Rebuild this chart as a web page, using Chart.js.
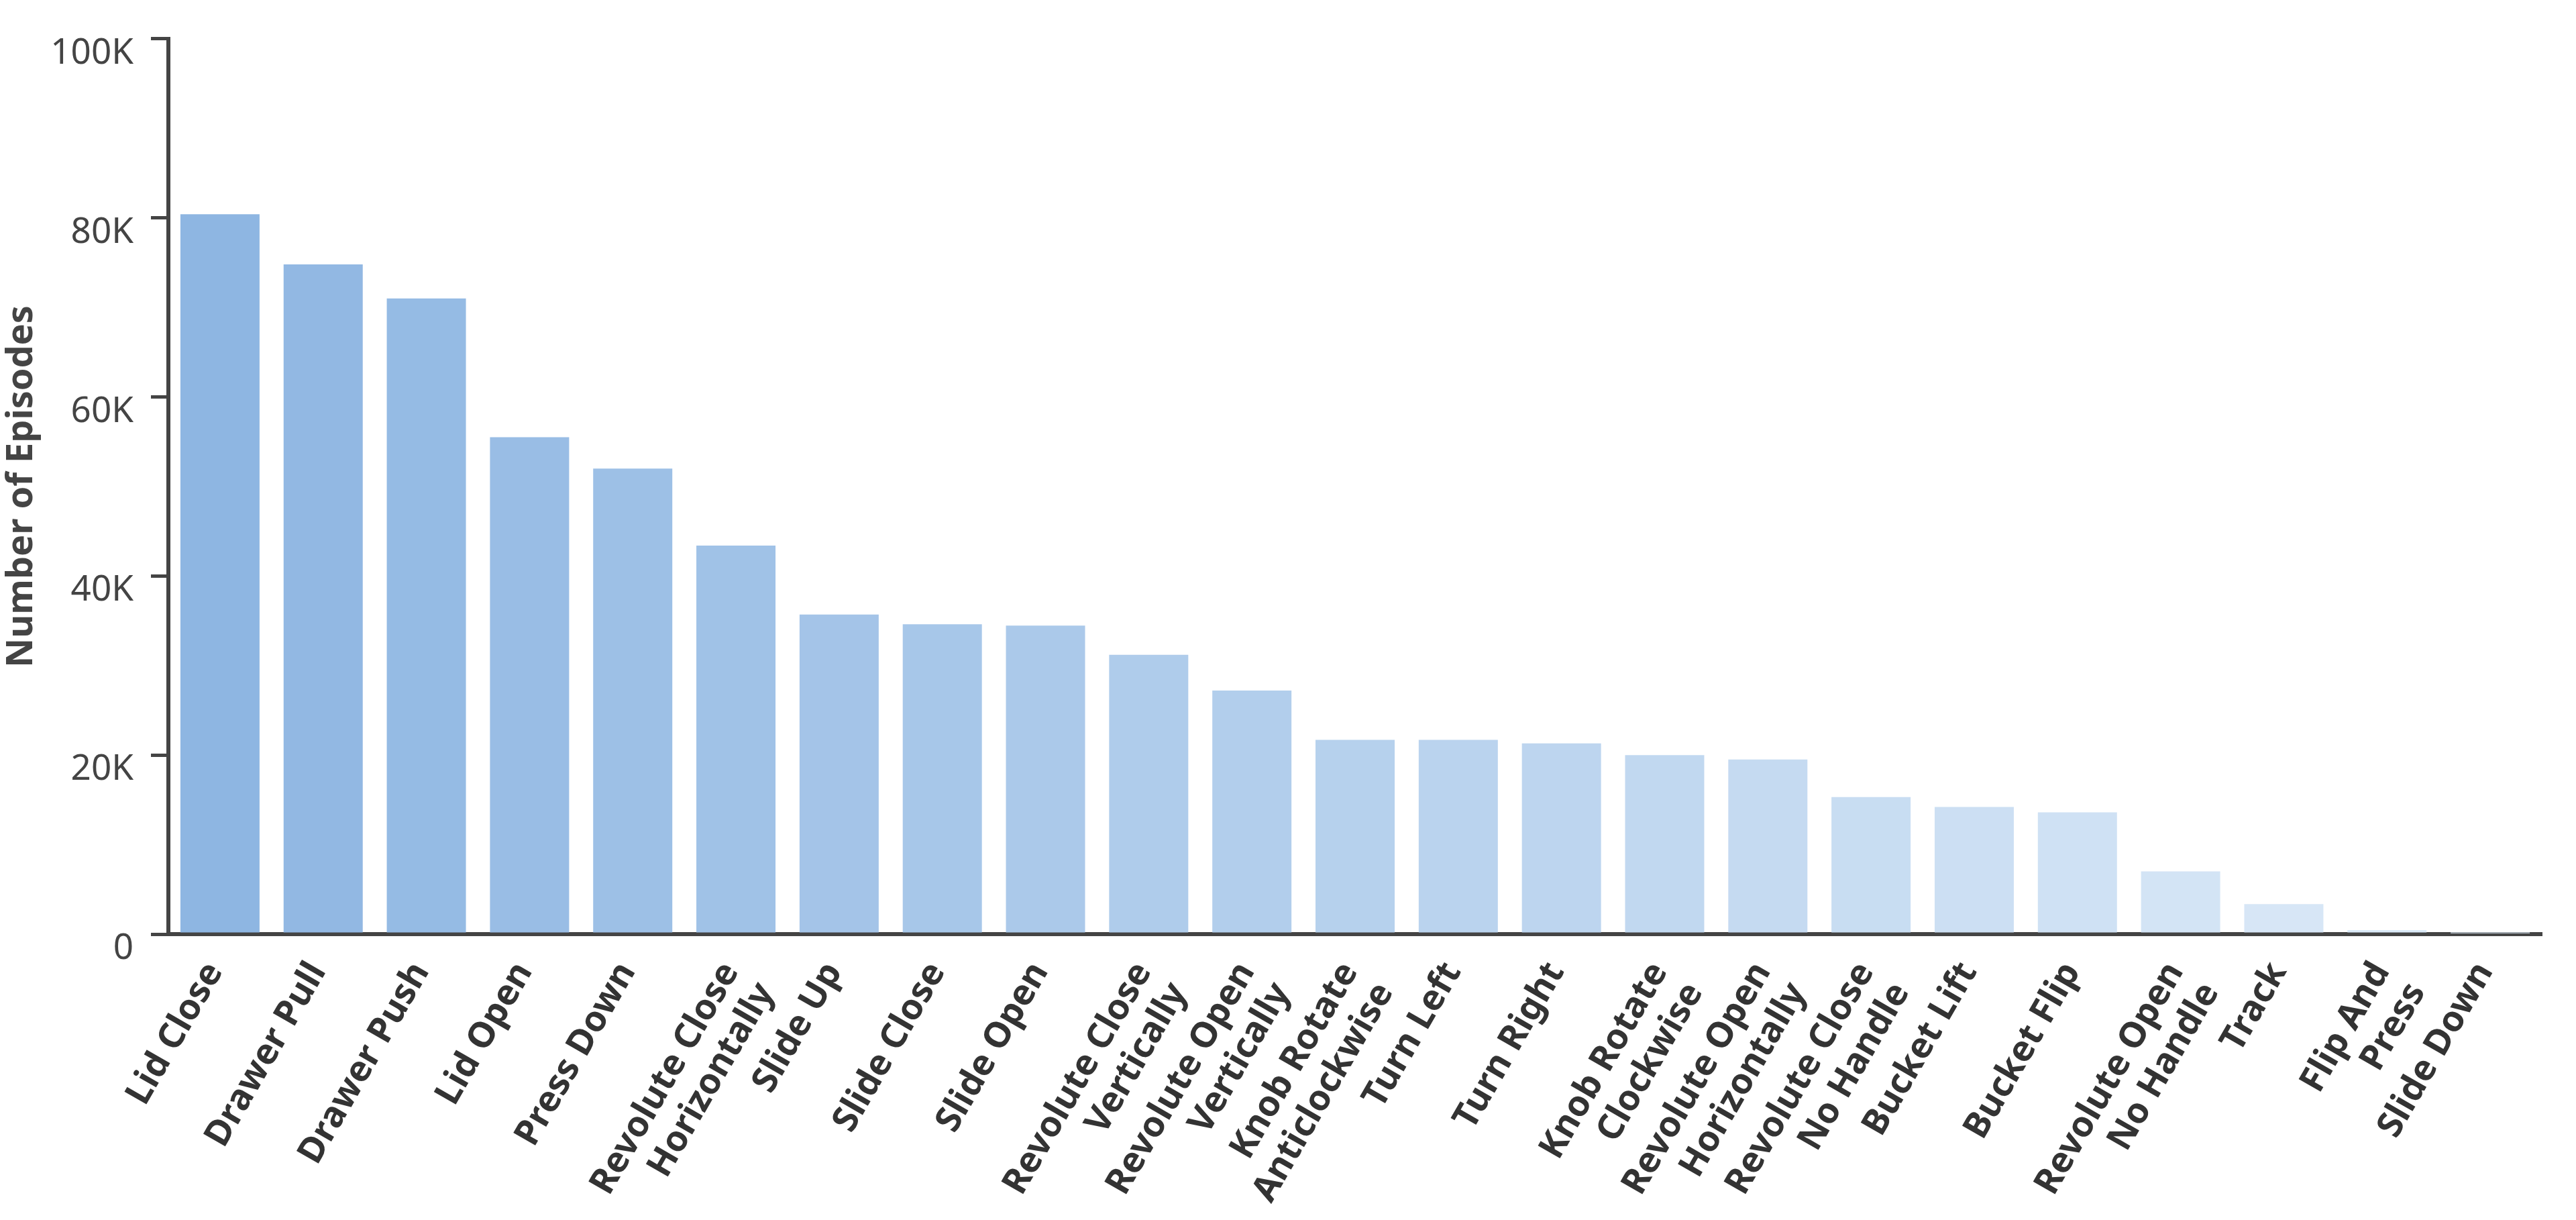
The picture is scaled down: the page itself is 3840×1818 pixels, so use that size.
<!DOCTYPE html>
<html>
<head>
<meta charset="utf-8">
<script src="https://cdn.jsdelivr.net/npm/chart.js@4/dist/chart.umd.min.js"></script>
<style>
  html, body { margin: 0; padding: 0; background: #ffffff; }
  #wrap { width: 3840px; height: 1818px; }
</style>
</head>
<body>
<div id="wrap"><canvas id="c" width="3840" height="1818"></canvas></div>
<script>
// ---- data ----
const categories = [
  ["Lid Close"],
  ["Drawer Pull"],
  ["Drawer Push"],
  ["Lid Open"],
  ["Press Down"],
  ["Revolute Close", "Horizontally"],
  ["Slide Up"],
  ["Slide Close"],
  ["Slide Open"],
  ["Revolute Close", "Vertically"],
  ["Revolute Open", "Vertically"],
  ["Knob Rotate", "Anticlockwise"],
  ["Turn Left"],
  ["Turn Right"],
  ["Knob Rotate", "Clockwise"],
  ["Revolute Open", "Horizontally"],
  ["Revolute Close", "No Handle"],
  ["Bucket Lift"],
  ["Bucket Flip"],
  ["Revolute Open", "No Handle"],
  ["Track"],
  ["Flip And", "Press"],
  ["Slide Down"]
];
const episodes = [80400, 74800, 71000, 55500, 52000, 43400, 35700, 34600, 34450, 31200,
                  27200, 21700, 21700, 21300, 20000, 19500, 15300, 14200, 13600, 7000,
                  3350, 450, 100];
const yTickValues = [0, 20000, 40000, 60000, 80000, 100000];
const yTickLabels = ["0", "20K", "40K", "60K", "80K", "100K"];
const yAxisTitle = "Number of Episodes";

// ---- styles ----
const startColor = [142, 182, 226];
const endColor = [222, 235, 248];
const barColors = episodes.map((_, i) => {
  const t = i / (episodes.length - 1);
  const c = startColor.map((s, k) => Math.round(s + (endColor[k] - s) * t));
  return `rgb(${c[0]},${c[1]},${c[2]})`;
});

const FONT = "'Noto Sans', 'Open Sans', 'DejaVu Sans', sans-serif";

new Chart(document.getElementById('c'), {
  type: 'bar',
  data: {
    labels: categories,
    datasets: [{
      data: episodes,
      backgroundColor: barColors,
      borderWidth: 0,
      categoryPercentage: 1.0,
      barPercentage: 0.767
    }]
  },
  options: {
    responsive: false,
    devicePixelRatio: 1,
    animation: false,
    events: [],
    layout: { padding: { top: 52, right: 51, bottom: 0, left: 0 } },
    plugins: {
      legend: { display: false },
      tooltip: { enabled: false },
      title: { display: false }
    },
    scales: {
      x: {
        offset: true,
        grid: { display: false },
        border: { display: true, color: '#444444', width: 6 },
        ticks: {
          autoSkip: false,
          maxRotation: 60,
          minRotation: 60,
          padding: 24,
          labelOffset: -8,
          color: '#333333',
          font: { family: FONT, size: 53, weight: 'bold', lineHeight: 1.15 }
        },
        afterFit(scale) { scale.height = 426; }
      },
      y: {
        min: 0,
        max: 100000,
        afterBuildTicks(scale) { scale.ticks = yTickValues.map(v => ({ value: v })); },
        grid: {
          display: true,
          drawOnChartArea: false,
          drawTicks: true,
          tickLength: 26,
          color: '#444444',
          lineWidth: 5
        },
        border: { display: true, color: '#444444', width: 6 },
        ticks: {
          padding: 26,
          labelOffset: 22,
          color: '#444444',
          font: { family: FONT, size: 53, weight: 'normal' },
          callback(value) {
            const idx = yTickValues.indexOf(value);
            return idx >= 0 ? yTickLabels[idx] : '';
          }
        },
        title: {
          display: true,
          text: yAxisTitle,
          color: '#444444',
          padding: 0,
          font: { family: FONT, size: 54, weight: 'bold', lineHeight: 1.2 }
        },
        afterFit(scale) { scale.width = 251; }
      }
    }
  }
});
</script>
</body>
</html>
